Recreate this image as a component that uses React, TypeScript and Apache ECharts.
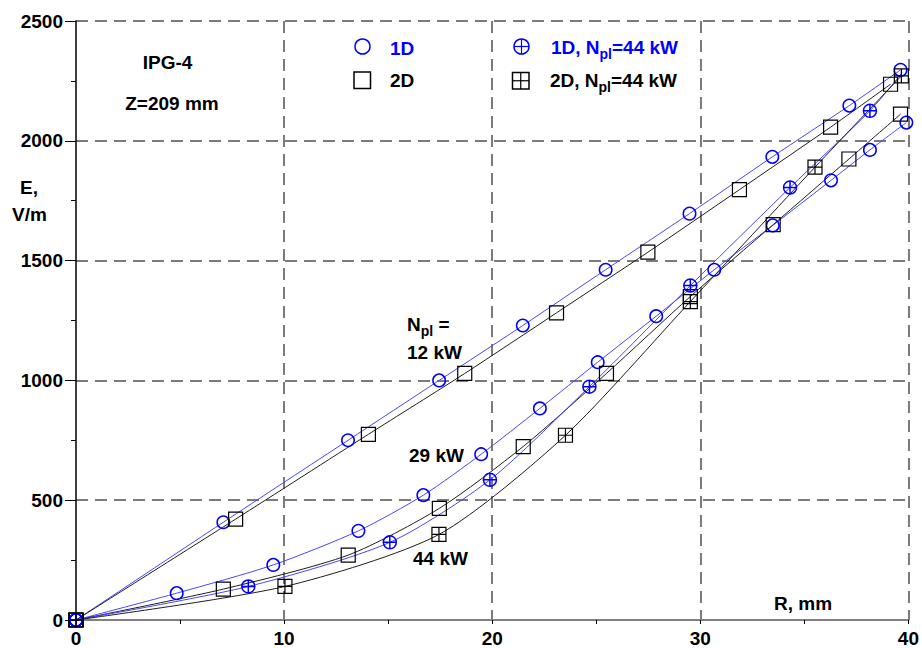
import React, { useEffect, useRef } from "react";
import * as echarts from "echarts";

const FONT = "'Liberation Sans', Arial, sans-serif";

// Axis ranges / ticks
const X_MIN = 0;
const X_MAX = 40;
const X_STEP = 10;
const Y_MIN = 0;
const Y_MAX = 2500;
const Y_STEP = 500;

// 1D model, N_pl = 12 kW (blue circles)
const R_1D_12 = [0, 7.08, 13.07, 17.45, 21.47, 25.45, 29.48, 33.46, 37.16, 39.62];
const E_1D_12 = [0, 408, 750, 1000, 1229, 1462, 1696, 1933, 2147, 2296];

// 2D model, N_pl = 12 kW (black squares)
const R_2D_12 = [0, 7.67, 14.05, 18.68, 23.09, 27.48, 31.88, 36.26, 39.14];
const E_2D_12 = [0, 421, 775, 1029, 1282, 1535, 1796, 2057, 2236];

// 1D model, N_pl = 29 kW (blue circles)
const R_1D_29 = [0, 4.84, 9.48, 13.57, 16.69, 19.47, 22.29, 25.07, 27.88, 30.67, 33.48, 36.28, 38.15, 39.9];
const E_1D_29 = [0, 112, 230, 372, 521, 692, 883, 1076, 1268, 1462, 1647, 1835, 1962, 2076];

// 2D model, N_pl = 29 kW (black squares)
const R_2D_29 = [0, 7.08, 13.08, 17.46, 21.49, 25.49, 29.52, 33.5, 37.14, 39.62];
const E_2D_29 = [0, 129, 271, 466, 724, 1029, 1350, 1650, 1924, 2111];

// 1D model, N_pl = 44 kW (blue crossed circles) + line end without marker
const R_1D_44 = [0, 8.28, 15.08, 19.89, 24.67, 29.52, 34.31, 38.15];
const E_1D_44 = [0, 140, 324, 585, 974, 1396, 1805, 2125];
const END_1D_44 = [39.7, 2285];

// 2D model, N_pl = 44 kW (black crossed squares)
const R_2D_44 = [0, 10.04, 17.44, 23.52, 29.52, 35.51, 39.66];
const E_2D_44 = [0, 140, 357, 771, 1329, 1890, 2271];

const BLUE = "#0000ff";
const BLUE_LINE = "#4646ff";
const BLACK = "#000000";
const BLACK_LINE = "#1e1e1e";
const GRID = "#505050";

const CROSS_CIRCLE = "path://M1,7A6,6 0 1,1 13,7A6,6 0 1,1 1,7Z M7,1L7,13 M1,7L13,7";
const CROSS_SQUARE = "path://M0,0L14,0L14,14L0,14Z M7,0L7,14 M0,7L14,7";

function pts(xs: number[], ys: number[]) {
  return xs.map((x, i) => [x, ys[i]]);
}

function mkSeries(
  name: string,
  data: any[],
  symbol: string,
  size: number,
  color: string,
  lineColor: string,
  bw: number
) {
  return {
    type: "line",
    name,
    data,
    symbol,
    symbolSize: size,
    symbolKeepAspect: true,
    smooth: 0.25,
    silent: true,
    lineStyle: { color: lineColor, width: 1 },
    itemStyle: { color: "transparent", borderColor: color, borderWidth: bw },
  };
}

const bold = `bold 19px ${FONT}`;

function txt(text: string, x: number, y: number, fill: string, align = "left") {
  return {
    type: "text",
    x,
    y,
    silent: true,
    style: {
      text,
      font: bold,
      fill,
      textAlign: align,
      align,
      textVerticalAlign: "middle",
      verticalAlign: "middle",
    },
  };
}

function richSub(parts: [string, string, string], x: number, y: number, fill: string) {
  return {
    type: "text",
    x,
    y,
    silent: true,
    style: {
      text: `{a|${parts[0]}}{s|${parts[1]}}{a|${parts[2]}}`,
      textAlign: "left",
      align: "left",
      textVerticalAlign: "middle",
      verticalAlign: "middle",
      rich: {
        a: { fontFamily: FONT, fontWeight: "bold", fontSize: 19, lineHeight: 28, fill },
        s: { fontFamily: FONT, fontWeight: "bold", fontSize: 14, lineHeight: 14, verticalAlign: "bottom", fill },
      },
    },
  };
}

const legendGraphics: any[] = [
  // 1D circle
  { type: "circle", silent: true, shape: { cx: 362.5, cy: 46.5, r: 7.5 }, style: { fill: "none", stroke: BLUE, lineWidth: 1.5 } },
  txt("1D", 390, 48, BLUE),
  // 2D square
  { type: "rect", silent: true, shape: { x: 354, y: 72, width: 16.5, height: 16.5 }, style: { fill: "none", stroke: BLACK, lineWidth: 1.5 } },
  txt("2D", 390, 80, BLACK),
  // 1D 44 crossed circle
  { type: "circle", silent: true, shape: { cx: 521.5, cy: 46.5, r: 7.5 }, style: { fill: "none", stroke: BLUE, lineWidth: 1.5 } },
  { type: "line", silent: true, shape: { x1: 514, y1: 46.5, x2: 529, y2: 46.5 }, style: { stroke: BLUE, lineWidth: 1.2 } },
  { type: "line", silent: true, shape: { x1: 521.5, y1: 39, x2: 521.5, y2: 54 }, style: { stroke: BLUE, lineWidth: 1.2 } },
  richSub(["1D, N", "pl", "=44 kW"], 551, 47, BLUE),
  // 2D 44 crossed square
  { type: "rect", silent: true, shape: { x: 512.5, y: 72.5, width: 16.5, height: 16.5 }, style: { fill: "none", stroke: BLACK, lineWidth: 1.5 } },
  { type: "line", silent: true, shape: { x1: 512.5, y1: 80.75, x2: 529, y2: 80.75 }, style: { stroke: BLACK, lineWidth: 1.2 } },
  { type: "line", silent: true, shape: { x1: 520.75, y1: 72.5, x2: 520.75, y2: 89 }, style: { stroke: BLACK, lineWidth: 1.2 } },
  richSub(["2D, N", "pl", "=44 kW"], 550, 80, BLACK),
];

const annotationGraphics: any[] = [
  txt("IPG-4", 167.5, 62.5, BLACK, "center"),
  txt("Z=209 mm", 172, 103, BLACK, "center"),
  txt("E,", 20, 187, BLACK),
  txt("V/m", 12, 214, BLACK),
  txt("R, mm", 774, 603, BLACK),
  richSub(["N", "pl", " ="], 407, 324, BLACK),
  txt("12 kW", 407, 352, BLACK),
  txt("29 kW", 409, 455, BLACK),
  txt("44 kW", 413, 558, BLACK),
];

const option: any = {
  animation: false,
  backgroundColor: "#ffffff",
  grid: { left: 76, right: 12, top: 21, bottom: 27, containLabel: false },
  xAxis: {
    type: "value",
    min: X_MIN,
    max: X_MAX,
    interval: X_STEP,
    axisLine: { show: true, lineStyle: { color: "#808080", width: 2 } },
    axisTick: { show: true, length: 4, lineStyle: { color: BLACK, width: 1 } },
    minorTick: { show: true, splitNumber: 2, length: 4, lineStyle: { color: BLACK, width: 1 } },
    axisLabel: {
      color: BLACK,
      fontFamily: FONT,
      fontWeight: "bold",
      fontSize: 19,
      margin: 9,
      formatter: (v: number) => String(v),
    },
    splitLine: { show: true, showMinLine: false, lineStyle: { color: GRID, width: 1.5, type: [12, 7] } },
  },
  yAxis: {
    type: "value",
    min: Y_MIN,
    max: Y_MAX,
    interval: Y_STEP,
    axisLine: { show: true, lineStyle: { color: BLACK, width: 1.5 } },
    axisTick: { show: true, length: 11, lineStyle: { color: BLACK, width: 1 } },
    minorTick: { show: true, splitNumber: 2, length: 5, lineStyle: { color: BLACK, width: 1 } },
    axisLabel: {
      color: BLACK,
      fontFamily: FONT,
      fontWeight: "bold",
      fontSize: 19,
      margin: 13,
      formatter: (v: number) => String(v),
    },
    splitLine: { show: true, showMinLine: false, lineStyle: { color: GRID, width: 1.5, type: [12, 7] } },
  },
  series: [
    mkSeries("1D", pts(R_1D_12, E_1D_12), "circle", 12.5, BLUE, BLUE_LINE, 1.5),
    mkSeries("2D", pts(R_2D_12, E_2D_12), "rect", 14, BLACK, BLACK_LINE, 1.2),
    mkSeries("1D", pts(R_1D_29, E_1D_29), "circle", 12.5, BLUE, BLUE_LINE, 1.5),
    mkSeries("2D", pts(R_2D_29, E_2D_29), "rect", 14, BLACK, BLACK_LINE, 1.2),
    mkSeries(
      "1D, Npl=44 kW",
      [...pts(R_1D_44, E_1D_44), { value: END_1D_44, symbol: "none" }],
      CROSS_CIRCLE,
      13,
      BLUE,
      BLUE_LINE,
      1.5
    ),
    mkSeries("2D, Npl=44 kW", pts(R_2D_44, E_2D_44), CROSS_SQUARE, 14, BLACK, BLACK_LINE, 1.2),
  ],
  graphic: [...legendGraphics, ...annotationGraphics],
};

export default function App() {
  const ref = useRef<HTMLDivElement>(null);
  useEffect(() => {
    if (!ref.current) return;
    const chart = echarts.init(ref.current, null, { renderer: "svg" });
    chart.setOption(option);
    return () => chart.dispose();
  }, []);
  return (
    <div
      ref={ref}
      style={{ position: "fixed", left: 0, top: 0, width: 922, height: 648, background: "#fff" }}
    />
  );
}
